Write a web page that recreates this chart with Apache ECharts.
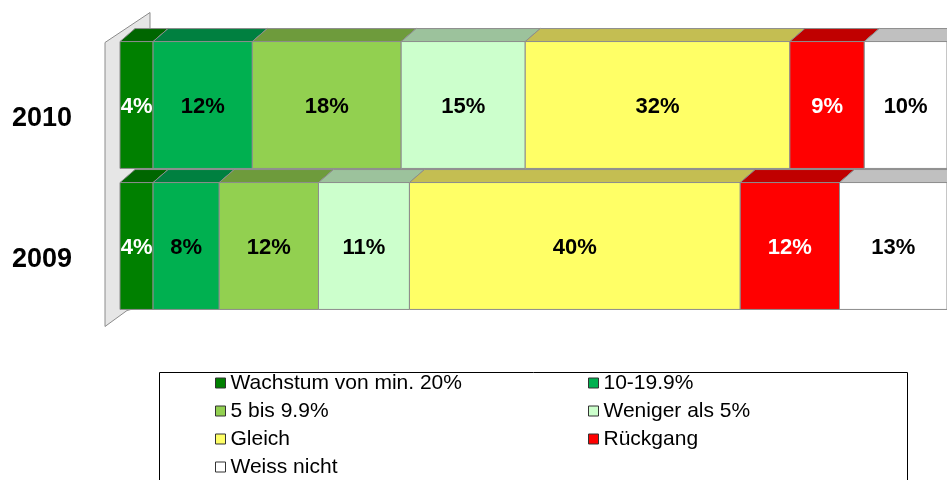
<!DOCTYPE html>
<html>
<head>
<meta charset="utf-8">
<script src="https://cdn.jsdelivr.net/npm/echarts@6/dist/echarts.min.js"></script>
<style>
  html, body { margin: 0; padding: 0; background: #fff; }
  #chart { width: 947px; height: 480px; }
</style>
</head>
<body>
<div id="chart"></div>
<script>
// Daten
const years = ["2009", "2010"];
const seriesNames = [
  "Wachstum von min. 20%",
  "10-19.9%",
  "5 bis 9.9%",
  "Weniger als 5%",
  "Gleich",
  "Rückgang",
  "Weiss nicht",
];
const values2009 = [4, 8, 12, 11, 40, 12, 13];
const values2010 = [4, 12, 18, 15, 32, 9, 10];

// Farben (Front / Oberseite / Beschriftung)
const frontColors = ["#008000", "#00b050", "#92d050", "#ccffcc", "#ffff66", "#ff0000", "#ffffff"];
const topColors = ["#006600", "#008040", "#6e9b3c", "#9cc29c", "#c4be52", "#c00000", "#c0c0c0"];
const labelColors = ["#fff", "#000", "#000", "#000", "#000", "#fff", "#000"];

const FONT = "'Liberation Sans', Arial, sans-serif";
const chart = echarts.init(document.getElementById("chart"));

// kumulierte Start/Ende pro Segment
function buildData(idx) {
  return years.map((y, yi) => {
    const vals = yi === 0 ? values2009 : values2010;
    let start = 0;
    for (let k = 0; k < idx; k++) start += vals[k];
    return [start, start + vals[idx], yi, vals[idx]];
  });
}

function makeRenderItem(idx) {
  return function (params, api) {
    const p0 = api.coord([api.value(0), api.value(2)]);
    const p1 = api.coord([api.value(1), api.value(2)]);
    const band = api.size([0, 1])[1];
    const h = band * 0.9;
    const top = p0[1] - h / 2;
    const dx = 15, dy = 13;
    return {
      type: "group",
      children: [
        {
          type: "polygon",
          shape: { points: [[p0[0], top], [p0[0] + dx, top - dy], [p1[0] + dx, top - dy], [p1[0], top]] },
          style: { fill: topColors[idx], stroke: "#8c8c8c", lineWidth: 1 },
        },
        {
          type: "rect",
          shape: { x: p0[0], y: top, width: p1[0] - p0[0], height: h },
          style: { fill: frontColors[idx], stroke: "#8c8c8c", lineWidth: 1 },
        },
        {
          type: "text",
          style: {
            text: api.value(3) + "%",
            x: (p0[0] + p1[0]) / 2,
            y: p0[1] + 2,
            align: "center",
            verticalAlign: "middle",
            font: "bold 22px " + FONT,
            fill: labelColors[idx],
          },
        },
      ],
    };
  };
}

// linke 3D-Wand
function renderWall(params, api) {
  const cs = params.coordSys;
  const L = cs.x, T = cs.y, B = cs.y + cs.height;
  return {
    type: "polygon",
    silent: true,
    shape: {
      points: [[L - 15, T + 8], [L + 30, T - 22], [L + 30, B - 12], [L + 7, B - 6], [L - 15, B + 10]],
    },
    style: { fill: "#e6e6e6", stroke: "#8c8c8c", lineWidth: 1 },
  };
}

const series = [
  {
    type: "custom",
    name: "wall",
    silent: true,
    renderItem: renderWall,
    data: [[0, 0]],
    z: 1,
  },
];
seriesNames.forEach((name, i) => {
  series.push({
    type: "custom",
    name: name,
    renderItem: makeRenderItem(i),
    data: buildData(i),
    encode: { x: [0, 1], y: 2 },
    itemStyle: { color: frontColors[i] },
    z: 2,
  });
});

const legendCommon = {
  orient: "vertical",
  top: 372,
  padding: 0,
  icon: "rect",
  itemWidth: 10,
  itemHeight: 10,
  itemGap: 6,
  itemStyle: { borderColor: "#333", borderWidth: 1 },
  textStyle: { fontFamily: FONT, fontSize: 21, lineHeight: 22, color: "#000" },
  selectedMode: false,
};

const option = {
  animation: false,
  backgroundColor: "#fff",
  grid: { left: 120, right: 0, top: 34.5, bottom: 163.5 },
  xAxis: {
    type: "value",
    min: 0,
    max: 100,
    show: false,
  },
  yAxis: {
    type: "category",
    data: years,
    axisLine: { show: false },
    axisTick: { show: false },
    splitLine: { show: false },
    axisLabel: {
      margin: 48,
      fontFamily: FONT,
      fontSize: 27,
      lineHeight: 27,
      fontWeight: "bold",
      color: "#000",
      verticalAlign: "top",
    },
  },
  legend: [
    Object.assign({}, legendCommon, {
      left: 215,
      data: [seriesNames[0], seriesNames[2], seriesNames[4], seriesNames[6]],
    }),
    Object.assign({}, legendCommon, {
      left: 588,
      data: [seriesNames[1], seriesNames[3], seriesNames[5]],
    }),
  ],
  graphic: [
    {
      type: "rect",
      left: 157,
      top: 370,
      shape: { width: 748, height: 130 },
      style: { fill: "none", stroke: "#000", lineWidth: 1 },
      silent: true,
      z: -1,
    },
  ],
  series: series,
};

chart.setOption(option);
</script>
</body>
</html>
